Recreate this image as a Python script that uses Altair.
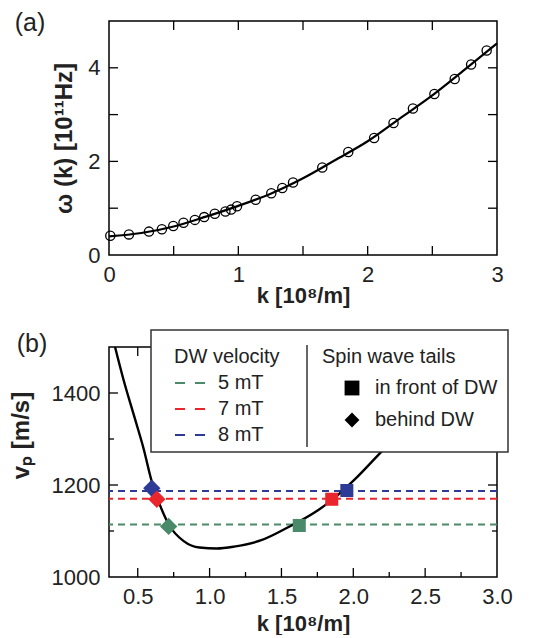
import altair as alt
import pandas as pd

FONT = "Liberation Sans"

# ---------------- Panel (a) data ----------------
k_pts = [0.01, 0.154, 0.309, 0.409, 0.497, 0.576, 0.664, 0.736, 0.818, 0.900, 0.944, 0.99,
         1.134, 1.255, 1.34, 1.423, 1.649, 1.85, 2.05, 2.20, 2.35, 2.516, 2.673, 2.80, 2.92]
w_pts = [0.41, 0.44, 0.50, 0.55, 0.62, 0.69, 0.75, 0.81, 0.88, 0.93, 0.97, 1.04,
         1.18, 1.32, 1.43, 1.55, 1.87, 2.20, 2.50, 2.82, 3.13, 3.44, 3.76, 4.07, 4.37]
k_fit = [0.0, 0.25, 0.5, 0.75, 1.0, 1.25, 1.5, 1.75, 2.0, 2.25, 2.5, 2.75, 3.0]
w_fit = [0.40, 0.47, 0.61, 0.82, 1.05, 1.31, 1.64, 2.03, 2.43, 2.92, 3.41, 3.96, 4.52]

a_xlabels = [0, 1, 2, 3]
a_ylabels = [0, 2, 4]
a_xticks = [0.5, 1, 1.5, 2, 2.5]
a_yticks = [1, 2, 3, 4]

# ---------------- Panel (b) data ----------------
k_vp = [0.342, 0.40, 0.47, 0.54, 0.60, 0.65, 0.72, 0.82, 0.93, 1.05, 1.17, 1.36, 1.54,
        1.73, 1.87, 2.01, 2.195, 2.4, 2.6, 2.8, 3.0]
vp = [1500, 1430, 1355, 1280, 1205, 1160, 1112, 1078, 1064, 1062, 1066, 1080, 1107,
      1140, 1172, 1212, 1272, 1335, 1395, 1450, 1500]

field_labels = ["5 mT", "7 mT", "8 mT"]
dw_velocity = [1114, 1170, 1187]
field_colors = ["#4a8a6a", "#e8262c", "#2d3a96"]

tail_field = ["8 mT", "7 mT", "5 mT", "5 mT", "7 mT", "8 mT"]
tail_pos = ["behind DW", "behind DW", "behind DW",
            "in front of DW", "in front of DW", "in front of DW"]
tail_k = [0.598, 0.633, 0.715, 1.624, 1.85, 1.955]
tail_v = [1193, 1169, 1110, 1112, 1169, 1188]
pos_labels = ["in front of DW", "behind DW"]
pos_shapes = ["square", "diamond"]

b_xlabels = [0.5, 1.0, 1.5, 2.0, 2.5, 3.0]
b_ylabels = [1000, 1200, 1400]
b_xmajor = [0.5, 1.0, 1.5, 2.0, 2.5]
b_xminor = [0.75, 1.25, 1.75, 2.25, 2.75]
b_ymajor = [1200, 1400]
b_yminor = [1100, 1300]

# ---------------- layout constants ----------------
W = 388
HA = 234
HB = 230
TL = 9   # major tick length
TS = 5   # minor tick length


def axis(values, title, fmt, label_pad=6, title_pad=6, title_size=22, **kw):
    args = dict(values=values, title=title, format=fmt, grid=False, domain=False, ticks=False,
                labelFont=FONT, labelFontSize=22, labelColor="#222",
                labelPadding=label_pad, labelFlush=False,
                titleFont=FONT, titleFontSize=title_size, titleFontWeight="bold",
                titleColor="#222", titlePadding=title_pad)
    args.update(kw)
    return alt.Axis(**args)


def tick_layers(xvals, yvals, xs, ys, xname, yname, h, length):
    dfx = pd.DataFrame({xname: xvals})
    dfy = pd.DataFrame({yname: yvals})
    rule = dict(color="black", strokeWidth=1.3)
    out = []
    if xvals:
        out.append(alt.Chart(dfx).mark_rule(**rule).encode(
            x=alt.X(f"{xname}:Q", scale=xs), y=alt.value(h), y2=alt.value(h - length)))
        out.append(alt.Chart(dfx).mark_rule(**rule).encode(
            x=alt.X(f"{xname}:Q", scale=xs), y=alt.value(0), y2=alt.value(length)))
    if yvals:
        out.append(alt.Chart(dfy).mark_rule(**rule).encode(
            y=alt.Y(f"{yname}:Q", scale=ys), x=alt.value(0), x2=alt.value(length)))
        out.append(alt.Chart(dfy).mark_rule(**rule).encode(
            y=alt.Y(f"{yname}:Q", scale=ys), x=alt.value(W), x2=alt.value(W - length)))
    return out


# ---------------- Panel (a) ----------------
xs_a = alt.Scale(domain=[0, 3], nice=False, zero=False)
ys_a = alt.Scale(domain=[0, 5], nice=False, zero=False)

fit_a = alt.Chart(pd.DataFrame({"k": k_fit, "w": w_fit})).mark_line(
    color="black", strokeWidth=2.2, interpolate="monotone").encode(
    x=alt.X("k:Q", scale=xs_a, axis=axis(a_xlabels, "k [10⁸/m]", "d", label_pad=9, title_pad=0)),
    y=alt.Y("w:Q", scale=ys_a, axis=axis(a_ylabels, "ω (k) [10¹¹Hz]", "d", label_pad=9,
                                         title_pad=11, title_size=24)),
)
pts_a = alt.Chart(pd.DataFrame({"k": k_pts, "w": w_pts})).mark_point(
    shape="circle", size=85, color="black", strokeWidth=1.3, filled=False, opacity=1).encode(
    x=alt.X("k:Q", scale=xs_a), y=alt.Y("w:Q", scale=ys_a))
lab_a = alt.Chart(pd.DataFrame({"t": ["(a)"]})).mark_text(
    font=FONT, fontSize=25, color="#222", align="center", baseline="middle").encode(
    text="t:N", x=alt.value(-79), y=alt.value(2))

panel_a = alt.layer(
    fit_a, pts_a,
    *tick_layers(a_xticks, a_yticks, xs_a, ys_a, "k", "w", HA, TL),
    lab_a,
).properties(width=W, height=HA)

# ---------------- Panel (b) ----------------
xs_b = alt.Scale(domain=[0.3, 3.0], nice=False, zero=False)
ys_b = alt.Scale(domain=[1000, 1500], nice=False, zero=False)
color_scale = alt.Scale(domain=field_labels, range=field_colors)
shape_scale = alt.Scale(domain=pos_labels, range=pos_shapes)

legend_common = dict(orient="none", padding=0, direction="vertical",
                     titleFont=FONT, titleFontSize=20, titleFontWeight="normal",
                     titleColor="#222", labelFont=FONT, labelFontSize=20,
                     labelColor="#222", legendY=0)

dw_rules = alt.Chart(pd.DataFrame({"field": field_labels, "vp": dw_velocity})).mark_rule(
    strokeDash=[7, 5], strokeWidth=2).encode(
    y=alt.Y("vp:Q", scale=ys_b),
    color=alt.Color("field:N", scale=color_scale, legend=alt.Legend(
        title="DW velocity", legendX=65, symbolType="stroke", symbolSize=900,
        symbolStrokeWidth=2, symbolDash=[10, 10], rowPadding=-5, titlePadding=0,
        labelOffset=12, **legend_common)),
)

curve_b = alt.Chart(pd.DataFrame({"k": k_vp, "vp": vp})).mark_line(
    color="black", strokeWidth=2.4, interpolate="monotone", clip=True).encode(
    x=alt.X("k:Q", scale=xs_b, axis=axis(b_xlabels, "k [10⁸/m]", ".1f", label_pad=9, title_pad=6)),
    y=alt.Y("vp:Q", scale=ys_b, axis=axis(b_ylabels, "vₚ [m/s]", "d", label_pad=9, title_pad=18,
                                          title_size=24, titleY=88)),
)

tails_df = pd.DataFrame({"field": tail_field, "pos": tail_pos, "k": tail_k, "vp": tail_v})
shape_legend = alt.Legend(
    title="Spin wave tails", legendX=213, symbolSize=220, symbolOffset=20,
    symbolFillColor="black", symbolStrokeColor="black", symbolStrokeWidth=0,
    rowPadding=12, titlePadding=11, labelOffset=13, **legend_common)

squares = alt.Chart(tails_df).transform_filter(
    alt.datum.pos == pos_labels[0]).mark_point(filled=True, opacity=1, size=170).encode(
    x=alt.X("k:Q", scale=xs_b),
    y=alt.Y("vp:Q", scale=ys_b),
    color=alt.Color("field:N", scale=color_scale, legend=None),
    shape=alt.Shape("pos:N", scale=shape_scale, legend=shape_legend),
)
diamonds = alt.Chart(tails_df).transform_filter(
    alt.datum.pos == pos_labels[1]).mark_point(filled=True, opacity=1, size=300).encode(
    x=alt.X("k:Q", scale=xs_b),
    y=alt.Y("vp:Q", scale=ys_b),
    color=alt.Color("field:N", scale=color_scale, legend=None),
    shape=alt.Shape("pos:N", scale=shape_scale, legend=shape_legend),
)

one = pd.DataFrame({"t": [0]})
box = alt.Chart(one).mark_rect(fill="white", stroke="#333", strokeWidth=1.5).encode(
    x=alt.value(42), x2=alt.value(399), y=alt.value(-17), y2=alt.value(105))
divider = alt.Chart(one).mark_rule(color="#333", strokeWidth=1.5).encode(
    x=alt.value(198), y=alt.value(-2), y2=alt.value(100))
lab_b = alt.Chart(pd.DataFrame({"t": ["(b)"]})).mark_text(
    font=FONT, fontSize=25, color="#222", align="center", baseline="middle").encode(
    text="t:N", x=alt.value(-77), y=alt.value(-3))

panel_b = alt.layer(
    dw_rules, curve_b, squares, diamonds,
    *tick_layers(b_xmajor, b_ymajor, xs_b, ys_b, "k", "vp", HB, TL),
    *tick_layers(b_xminor, b_yminor, xs_b, ys_b, "k", "vp", HB, TS),
    box, divider, lab_b,
).properties(width=W, height=HB)

chart = alt.vconcat(panel_a, panel_b, spacing=21).resolve_scale(
    color="independent", shape="independent").resolve_legend(
    color="independent", shape="independent").configure_view(
    stroke="black", strokeWidth=1.5).properties(
    padding={"left": 0, "top": 2, "right": 5, "bottom": 0})

chart.save("out.html", embed_options={"renderer": "svg", "actions": False})
